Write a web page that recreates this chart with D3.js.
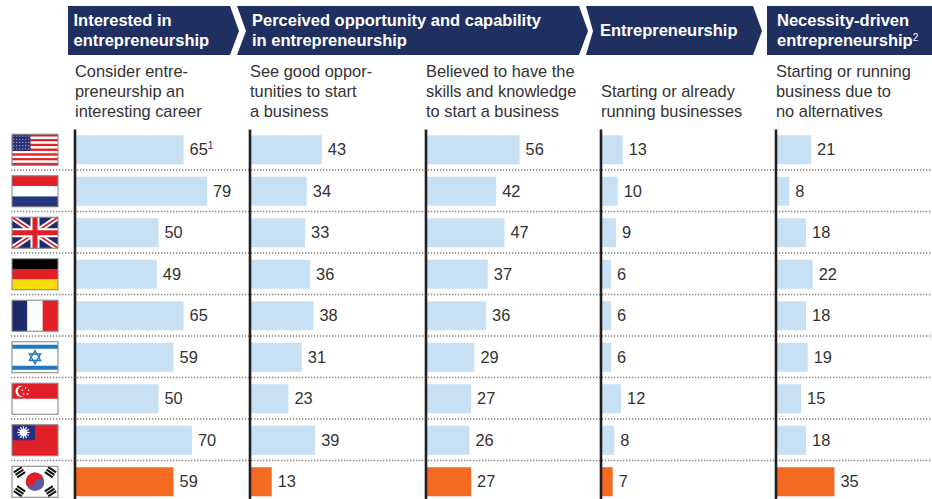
<!DOCTYPE html>
<html>
<head>
<meta charset="utf-8">
<script src="https://cdn.jsdelivr.net/npm/d3@7"></script>
<style>
body { margin: 0; background: #fff; }
svg { display: block; font-family: "Liberation Sans", Arial, sans-serif; }
</style>
</head>
<body>
<svg id="chart" width="932" height="499"></svg>
<script>
const countries = ["United States", "Netherlands", "United Kingdom", "Germany", "France", "Israel", "Singapore", "Taiwan", "South Korea"];
const interested = [65, 79, 50, 49, 65, 59, 50, 70, 59];
const opportunity = [43, 34, 33, 36, 38, 31, 23, 39, 13];
const capability = [56, 42, 47, 37, 36, 29, 27, 26, 27];
const running = [13, 10, 9, 6, 6, 6, 12, 8, 7];
const necessity = [21, 8, 18, 22, 18, 19, 15, 18, 35];
const highlight = "South Korea";

const columns = [
    { values: interested, x: 75, note: ["Consider entre-", "preneurship an", "interesting career"], first: "1" },
    { values: opportunity, x: 250, note: ["See good oppor-", "tunities to start", "a business"] },
    { values: capability, x: 426, note: ["Believed to have the", "skills and knowledge", "to start a business"] },
    { values: running, x: 601, note: ["", "Starting or already", "running businesses"] },
    { values: necessity, x: 776, note: ["Starting or running", "business due to", "no alternatives"] }
];

const headers = [
    { pts: [[68, 6], [230, 6], [239, 31], [230, 55], [68, 55]], x: 73.5, lines: ["Interested in", "entrepreneurship"] },
    { pts: [[237, 6], [579, 6], [588, 31], [579, 55], [237, 55], [246, 31]], x: 252, lines: ["Perceived opportunity and capability", "in entrepreneurship"] },
    { pts: [[586, 6], [753, 6], [762, 31], [753, 55], [586, 55], [593, 31]], x: 600, lines: ["Entrepreneurship"] },
    { pts: [[767, 6], [932, 6], [932, 55], [767, 55]], x: 777, lines: ["Necessity-driven", "entrepreneurship"], sup: "2" }
];

const NAVY = "#1f2f60";
const BAR = "#c8e0f4";
const ORANGE = "#f56a21";
const INK = "#333333";

let svg = d3.select("#chart");

let y = d3.scaleBand()
    .domain(countries)
    .range([129, 502.5])
    .paddingInner(0.3)
    .paddingOuter(0.15);
let rowStep = y.step();

// bars start under the axis line, so measure from col.x
let w = d3.scaleLinear().domain([0, 100]).range([0, 167]);

// headers
headers.forEach(h => {
    svg.append("polygon")
        .attr("points", h.pts.join(" "))
        .attr("fill", NAVY);
    let startY = h.lines.length == 1 ? 36 : 25.5;
    h.lines.forEach((line, i) => {
        let t = svg.append("text")
            .attr("x", h.x)
            .attr("y", startY + i * 20)
            .attr("font-size", 16.5)
            .attr("font-weight", "bold")
            .attr("fill", "#fff")
            .text(line);
        if (h.sup && i == h.lines.length - 1) {
            t.append("tspan")
                .attr("font-size", 10)
                .attr("font-weight", "normal")
                .attr("dy", -5)
                .text(h.sup);
        }
    });
});

// row separators
countries.slice(0, -1).forEach(c => {
    let ly = y(c) + y.bandwidth() + (rowStep - y.bandwidth()) / 2 - 0.5;
    svg.append("line")
        .attr("x1", 11).attr("x2", 932)
        .attr("y1", ly).attr("y2", ly)
        .attr("stroke", "#7f7f7f")
        .attr("stroke-width", 1.3)
        .attr("stroke-dasharray", "1.3 1.7");
});

// columns
columns.forEach(col => {
    col.note.forEach((line, i) => {
        svg.append("text")
            .attr("x", col.x)
            .attr("y", 77 + i * 20)
            .attr("font-size", 16.4)
            .attr("fill", INK)
            .text(line);
    });

    let g = svg.append("g");
    g.selectAll("rect")
        .data(col.values)
        .join("rect")
        .attr("x", col.x)
        .attr("y", (d, i) => y(countries[i]))
        .attr("width", d => w(d))
        .attr("height", y.bandwidth())
        .attr("fill", (d, i) => countries[i] == highlight ? ORANGE : BAR);

    let labels = g.selectAll("text")
        .data(col.values)
        .join("text")
        .attr("x", d => col.x + w(d) + 6)
        .attr("y", (d, i) => y(countries[i]) + y.bandwidth() / 2 + 5.5)
        .attr("font-size", 16.4)
        .attr("fill", INK)
        .text(d => d);
    if (col.first) {
        labels.filter((d, i) => i == 0)
            .append("tspan")
            .attr("font-size", 10)
            .attr("dy", -6)
            .text(col.first);
    }

    svg.append("line")
        .attr("x1", col.x).attr("x2", col.x)
        .attr("y1", 129.5).attr("y2", 499)
        .attr("stroke", "#231f20")
        .attr("stroke-width", 2.6);
});

// flags
const FW = 46, FH = 31;
const RED = "#e01f26", BLUE = "#1f2a6b", WHITE = "#ffffff";

function stripesH(g, cols) {
    cols.forEach((c, i) => {
        g.append("rect").attr("x", 0).attr("y", i * FH / cols.length)
            .attr("width", FW).attr("height", FH / cols.length + 0.2).attr("fill", c);
    });
}

const drawFlag = {
    "United States": g => {
        stripesH(g, d3.range(13).map(i => i % 2 ? WHITE : RED));
        g.append("rect").attr("width", 18.5).attr("height", 16.7).attr("fill", "#2b2f78");
        d3.range(5).forEach(r => d3.range(6).forEach(c => {
            g.append("circle").attr("cx", 1.8 + c * 3).attr("cy", 1.8 + r * 3.2).attr("r", 0.6).attr("fill", "#c9cbe6");
        }));
    },
    "Netherlands": g => stripesH(g, [RED, WHITE, "#27377f"]),
    "United Kingdom": g => {
        g.append("rect").attr("width", FW).attr("height", FH).attr("fill", BLUE);
        g.append("path").attr("d", `M0 0L${FW} ${FH}M${FW} 0L0 ${FH}`).attr("stroke", WHITE).attr("stroke-width", 5.5);
        g.append("path").attr("d", `M0 0L${FW} ${FH}M${FW} 0L0 ${FH}`).attr("stroke", RED).attr("stroke-width", 1.8);
        g.append("path").attr("d", `M${FW / 2} 0V${FH}M0 ${FH / 2}H${FW}`).attr("stroke", WHITE).attr("stroke-width", 9);
        g.append("path").attr("d", `M${FW / 2} 0V${FH}M0 ${FH / 2}H${FW}`).attr("stroke", RED).attr("stroke-width", 5);
    },
    "Germany": g => stripesH(g, ["#000000", RED, "#fcdb0b"]),
    "France": g => {
        [BLUE, WHITE, RED].forEach((c, i) => {
            g.append("rect").attr("x", i * FW / 3).attr("width", FW / 3 + 0.2).attr("height", FH).attr("fill", c);
        });
    },
    "Israel": g => {
        g.append("rect").attr("width", FW).attr("height", FH).attr("fill", WHITE);
        [3, 24].forEach(sy => g.append("rect").attr("y", sy).attr("width", FW).attr("height", 4).attr("fill", "#2277bd"));
        let tri = s => d3.range(3).map(i => {
            let a = s * Math.PI / 2 + i * 2 * Math.PI / 3;
            return [FW / 2 + 6.5 * Math.cos(a), FH / 2 + 6.5 * Math.sin(a)];
        });
        [-1, 1].forEach(s => g.append("polygon").attr("points", tri(s).join(" "))
            .attr("fill", "none").attr("stroke", "#2277bd").attr("stroke-width", 1.4));
    },
    "Singapore": g => {
        stripesH(g, [RED, WHITE]);
        g.append("circle").attr("cx", 9).attr("cy", 8).attr("r", 5.5).attr("fill", WHITE);
        g.append("circle").attr("cx", 11).attr("cy", 8).attr("r", 5.2).attr("fill", RED);
        d3.range(5).forEach(i => {
            let a = -Math.PI / 2 + i * 2 * Math.PI / 5;
            g.append("circle").attr("cx", 13.5 + 3.3 * Math.cos(a)).attr("cy", 8 + 3.3 * Math.sin(a)).attr("r", 0.8).attr("fill", WHITE);
        });
    },
    "Taiwan": g => {
        g.append("rect").attr("width", FW).attr("height", FH).attr("fill", RED);
        g.append("rect").attr("width", 23).attr("height", 15.5).attr("fill", "#27307f");
        d3.range(12).forEach(i => {
            let a = i * Math.PI / 6;
            g.append("line").attr("x1", 11.5).attr("y1", 7.7)
                .attr("x2", 11.5 + 6.2 * Math.cos(a)).attr("y2", 7.7 + 6.2 * Math.sin(a))
                .attr("stroke", "#dfe3f5").attr("stroke-width", 1.3);
        });
        g.append("circle").attr("cx", 11.5).attr("cy", 7.7).attr("r", 3.6).attr("fill", WHITE);
    },
    "South Korea": g => {
        let cx = FW / 2, cy = FH / 2, r = 9.2;
        g.append("rect").attr("width", FW).attr("height", FH).attr("fill", WHITE);
        g.append("circle").attr("cx", cx).attr("cy", cy).attr("r", r).attr("fill", "#5c5aa8");
        let arc = d3.arc().innerRadius(0).outerRadius(r).startAngle(-Math.PI / 2 - 0.5).endAngle(Math.PI / 2 - 0.5);
        g.append("path").attr("transform", `translate(${cx},${cy})`).attr("d", arc()).attr("fill", RED);
        g.append("circle").attr("cx", cx - 4.2).attr("cy", cy - 0.3).attr("r", 4.7).attr("fill", RED);
        g.append("circle").attr("cx", cx + 4.2).attr("cy", cy + 2.1).attr("r", 4.7).attr("fill", "#5c5aa8");
        [[-15.5, -9.5, 1], [15.5, -9.5, -1], [-15.5, 9.5, -1], [15.5, 9.5, 1]].forEach(b => {
            let bar = g.append("g")
                .attr("transform", `translate(${cx + b[0]},${cy + b[1]}) rotate(${b[2] * -34})`);
            [-3, 0, 3].forEach(o => {
                bar.append("rect").attr("x", -4.8).attr("y", o - 1).attr("width", 9.6).attr("height", 2).attr("fill", "#111");
            });
        });
    }
};

countries.forEach(c => {
    let g = svg.append("g")
        .attr("transform", `translate(12,${y(c) + y.bandwidth() / 2 - FH / 2})`);
    drawFlag[c](g);
    g.append("rect")
        .attr("width", FW).attr("height", FH)
        .attr("fill", "none")
        .attr("stroke", "#8a8a8a")
        .attr("stroke-width", 1.1);
});
</script>
</body>
</html>
